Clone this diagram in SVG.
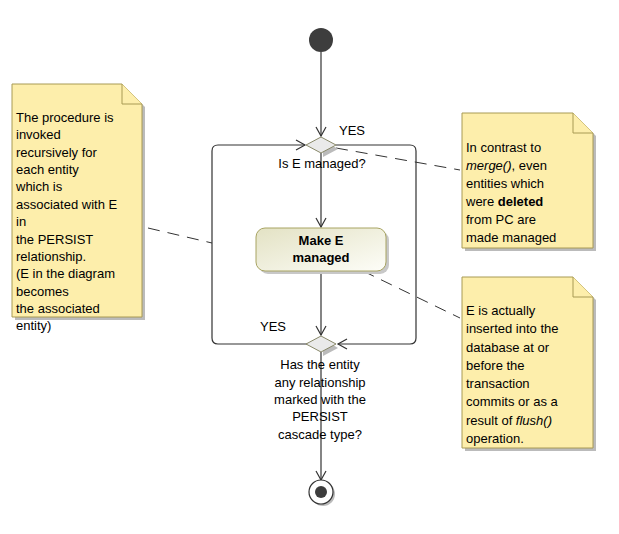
<svg xmlns="http://www.w3.org/2000/svg" width="619" height="534" viewBox="0 0 619 534">
<style>
text{font-family:"Liberation Sans",Arial,sans-serif;font-size:13px;fill:#000}
.c{text-anchor:middle}
.note{fill:#fdeeab;stroke:#a89a55;stroke-width:1}
.sh{fill:#bbb}
.ln{fill:none;stroke:#333;stroke-width:1.2}
.ds{fill:none;stroke:#333;stroke-width:1;stroke-dasharray:12,8}
.ar{fill:none;stroke:#333;stroke-width:1.2}
</style>
<defs>
<linearGradient id="g" x1="0" y1="0" x2="1" y2="1"><stop offset="0" stop-color="#e3e2c4"/><stop offset="1" stop-color="#fdfdf8"/></linearGradient>
<marker id="a" markerWidth="12" markerHeight="12" refX="10" refY="6" orient="auto" markerUnits="userSpaceOnUse"><path d="M1,1 L10,6 L1,11" class="ar"/></marker>
</defs>
<g id="connectors">
<line x1="321" y1="52" x2="321" y2="136" class="ln" marker-end="url(#a)"/>
<line x1="321" y1="153" x2="321" y2="227" class="ln" marker-end="url(#a)"/>
<line x1="321" y1="271" x2="321" y2="335" class="ln" marker-end="url(#a)"/>
<line x1="321" y1="352" x2="321" y2="480" class="ln" marker-end="url(#a)"/>
<path d="M308,344 H218 Q212,344 212,338 V151 Q212,145 218,145 H305" class="ln" marker-end="url(#a)"/>
<path d="M336,145 H410 Q416,145 416,151 V338 Q416,344 410,344 H338" class="ln" marker-end="url(#a)"/>
<text x="339" y="135">YES</text>
<text x="260" y="331">YES</text>
<line x1="148" y1="228" x2="212" y2="243" class="ds"/>
<line x1="336" y1="148" x2="460" y2="170" class="ds"/>
<line x1="363" y1="271" x2="460" y2="318" class="ds"/>
</g>
<g id="start"><circle cx="321" cy="40" r="12" fill="#3d3d3d"/></g>
<g id="decision1">
<path d="M323,140 L338,149 L323,157 Z" class="sh"/>
<path d="M321,137 L336,145 L321,153 L306,145 Z" fill="#eaeaea" stroke="#888869"/>
<text x="322" y="168" class="c">Is E managed?</text>
</g>
<g id="action">
<rect x="259" y="231" width="130" height="43" rx="9" fill="#c8c8c8"/>
<rect x="256" y="228" width="130" height="43" rx="9" fill="url(#g)" stroke="#a8a462"/>
<text x="321" y="245" class="c" font-weight="bold">Make E</text>
<text x="321" y="262" class="c" font-weight="bold">managed</text>
</g>
<g id="decision2">
<path d="M323,339 L338,348 L323,356 Z" class="sh"/>
<path d="M321,336 L336,344 L321,352 L306,344 Z" fill="#eaeaea" stroke="#888869"/>
<text x="320" y="369" class="c">Has the entity</text>
<text x="320" y="387" class="c">any relationship</text>
<text x="320" y="404" class="c">marked with the</text>
<text x="320" y="421" class="c">PERSIST</text>
<text x="320" y="439" class="c">cascade type?</text>
</g>
<g id="end">
<circle cx="323" cy="494" r="12" fill="#bbb"/>
<circle cx="321" cy="492" r="12" fill="#fff" stroke="#333" stroke-width="1.2"/>
<circle cx="321" cy="492" r="6" fill="#3d3d3d"/>
</g>
<g id="note-left">
<path d="M15,87 H125 L145,107 V320 H15 Z" class="sh"/>
<path d="M12,84 H122 L142,104 V317 H12 Z" class="note"/>
<path d="M122,84 V104 H142" class="note"/>
<text x="16" y="122">The procedure is</text>
<text x="16" y="139">invoked</text>
<text x="16" y="157">recursively for</text>
<text x="16" y="174">each entity</text>
<text x="16" y="191">which is</text>
<text x="16" y="209">associated with E</text>
<text x="16" y="226">in</text>
<text x="16" y="244">the PERSIST</text>
<text x="16" y="261">relationship.</text>
<text x="16" y="278">(E in the diagram</text>
<text x="16" y="296">becomes</text>
<text x="16" y="313">the associated</text>
<text x="16" y="330">entity)</text>
</g>
<g id="note-top-right">
<path d="M465,116 H576 L596,136 V251 H465 Z" class="sh"/>
<path d="M462,113 H573 L593,133 V248 H462 Z" class="note"/>
<path d="M573,113 V133 H593" class="note"/>
<text x="466" y="152">In contrast to</text>
<text x="466" y="170"><tspan font-style="italic">merge()</tspan>, even</text>
<text x="466" y="188">entities which</text>
<text x="466" y="206">were <tspan font-weight="bold">deleted</tspan></text>
<text x="466" y="224">from PC are</text>
<text x="466" y="242">made managed</text>
</g>
<g id="note-bottom-right">
<path d="M465,280 H576 L596,300 V451 H465 Z" class="sh"/>
<path d="M462,277 H573 L593,297 V448 H462 Z" class="note"/>
<path d="M573,277 V297 H593" class="note"/>
<text x="466" y="315">E is actually</text>
<text x="466" y="333">inserted into the</text>
<text x="466" y="352">database at or</text>
<text x="466" y="370">before the</text>
<text x="466" y="388">transaction</text>
<text x="466" y="406">commits or as a</text>
<text x="466" y="425">result of <tspan font-style="italic">flush()</tspan></text>
<text x="466" y="443">operation.</text>
</g>
</svg>
